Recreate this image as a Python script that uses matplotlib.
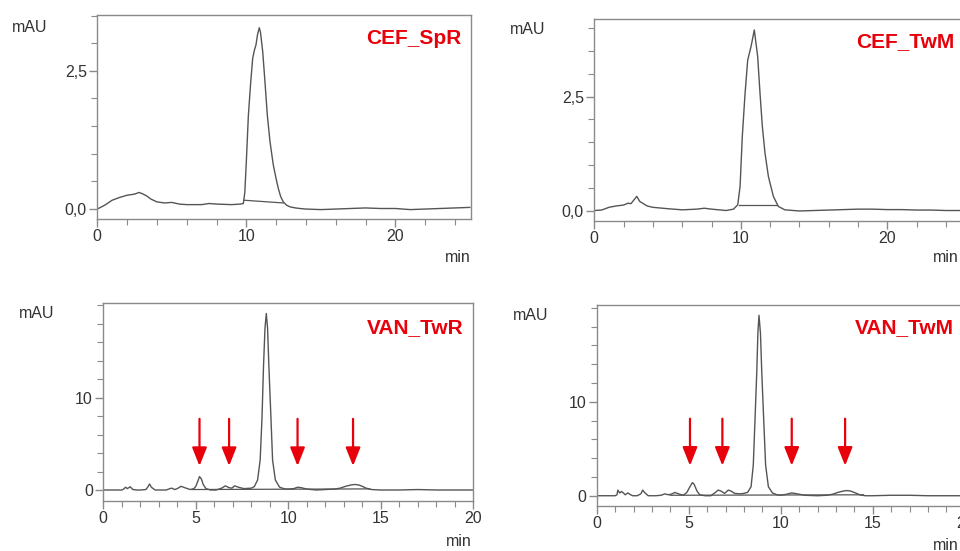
import matplotlib
matplotlib.use("Agg")
import matplotlib.pyplot as plt
from matplotlib.ticker import MultipleLocator, FixedLocator, FuncFormatter

plt.rcParams['font.family'] = ['Liberation Sans', 'DejaVu Sans']

# --- data (time in min, absorbance in mAU) ---
t_spr = [0, 0.5, 1.0, 1.5, 2.0, 2.5, 2.8, 3.0, 3.3, 3.6, 4.0, 4.5, 5.0, 5.5, 6.0, 7.0, 7.5, 8.0,
         9.0, 9.6, 9.8, 9.9, 10.0, 10.14, 10.3, 10.43, 10.55, 10.65, 10.75, 10.87, 10.95, 11.1,
         11.25, 11.41, 11.59, 11.81, 12.0, 12.15, 12.3, 12.48, 12.7, 12.93, 13.3, 13.6, 14, 15,
         16, 17, 18, 19, 20, 21, 22, 23, 24, 25]
a_spr = [0.0, 0.07, 0.16, 0.21, 0.25, 0.27, 0.30, 0.28, 0.24, 0.18, 0.13, 0.11, 0.12, 0.09, 0.08,
         0.08, 0.10, 0.09, 0.08, 0.09, 0.10, 0.30, 0.85, 1.70, 2.31, 2.73, 2.88, 2.97, 3.15, 3.28,
         3.20, 2.85, 2.31, 1.70, 1.22, 0.80, 0.55, 0.37, 0.23, 0.13, 0.07, 0.04, 0.02, 0.01, 0.0,
         -0.01, 0.0, 0.01, 0.02, 0.01, 0.01, -0.01, 0.0, 0.01, 0.02, 0.03]
base_t_spr = [9.83, 12.48]
base_a_spr = [0.16, 0.11]

t_twm = [0, 0.5, 1.0, 1.5, 2.0, 2.3, 2.5, 2.8, 2.9, 3.1, 3.3, 3.6, 4.0, 5.0, 6.0, 7.0, 7.5, 8.0,
         9.0, 9.5, 9.79, 9.95, 10.1, 10.29, 10.47, 10.7, 10.92, 11.15, 11.31, 11.47, 11.65,
         11.88, 12.22, 12.56, 13.0, 14, 15, 16, 17, 18, 19, 20, 21, 22, 23, 24, 25]
a_twm = [0.0, 0.01, 0.07, 0.10, 0.12, 0.16, 0.15, 0.27, 0.31, 0.20, 0.16, 0.10, 0.07, 0.04, 0.015,
         0.03, 0.05, 0.03, 0.0, 0.03, 0.125, 0.53, 1.62, 2.57, 3.30, 3.60, 3.96, 3.38, 2.57, 1.84,
         1.26, 0.75, 0.31, 0.09, 0.015, -0.01, 0.0, 0.01, 0.02, 0.03, 0.03, 0.02, 0.02, 0.01,
         0.01, 0.0, 0.0]
base_t_twm = [9.9, 12.5]
base_a_twm = [0.125, 0.125]

t_van_twr = [0, 0.5, 1.0, 1.1, 1.2, 1.3, 1.45, 1.6, 1.8, 2.0, 2.3, 2.4, 2.5, 2.6, 2.8, 3.0, 3.4,
             3.6, 3.7, 3.85, 4.0, 4.2, 4.4, 4.7, 4.9, 5.0, 5.1, 5.2, 5.3, 5.4, 5.55, 5.8, 6.1,
             6.4, 6.6, 6.8, 6.95, 7.1, 7.3, 7.6, 8.0, 8.16, 8.34, 8.48, 8.58, 8.66, 8.74, 8.81,
             8.88, 8.95, 9.06, 9.15, 9.3, 9.53, 9.8, 10.0, 10.3, 10.5, 10.7, 11.0, 11.5, 12.0,
             12.5, 12.8, 13.1, 13.4, 13.6, 13.8, 14.0, 14.2, 14.5, 15, 16, 17, 18, 19, 20]
a_van_twr = [0, 0, 0, 0.1, 0.3, 0.15, 0.35, 0.05, 0.0, 0.0, 0.05, 0.3, 0.65, 0.3, 0.0, 0.0, 0.0,
             0.15, 0.2, 0.05, 0.15, 0.4, 0.25, 0.05, 0.15, 0.4, 0.9, 1.45, 1.2, 0.6, 0.15, 0.0,
             0.0, 0.2, 0.45, 0.25, 0.2, 0.45, 0.3, 0.15, 0.2, 0.36, 1.08, 3.25, 7.9, 13.4, 17.5,
             19.1, 17.5, 13.4, 7.9, 3.25, 1.08, 0.3, 0.12, 0.1, 0.15, 0.3, 0.25, 0.1, 0.0, 0.05,
             0.1, 0.2, 0.4, 0.55, 0.6, 0.55, 0.4, 0.2, 0.05, 0.0, 0.0, 0.05, 0.0, 0.0, 0.0]
base_t_van_twr = [4.8, 14.4]
base_a_van_twr = [0.05, 0.12]
arrows_van_twr = [5.2, 6.8, 10.5, 13.5]

t_van_twm = [0, 0.5, 1.0, 1.1, 1.15, 1.25, 1.35, 1.45, 1.55, 1.7, 1.8, 1.95, 2.2, 2.4, 2.5, 2.6,
             2.8, 3.2, 3.5, 3.7, 3.9, 4.1, 4.25, 4.45, 4.7, 4.9, 5.05, 5.2, 5.3, 5.45, 5.6, 5.9,
             6.2, 6.45, 6.6, 6.75, 6.95, 7.15, 7.3, 7.5, 7.8, 8.0, 8.2, 8.39, 8.51, 8.6, 8.7,
             8.76, 8.82, 8.9, 8.97, 9.08, 9.18, 9.33, 9.55, 9.8, 10.0, 10.3, 10.6, 10.9, 11.3,
             12.0, 12.5, 12.8, 13.1, 13.4, 13.6, 13.8, 14.0, 14.3, 14.6, 15, 16, 17, 18, 19, 20]
a_van_twm = [0, 0, 0, 0.1, 0.6, 0.3, 0.45, 0.3, 0.1, 0.3, 0.15, 0.0, 0.0, 0.2, 0.6, 0.35, 0.0,
             0.0, 0.05, 0.2, 0.1, 0.2, 0.35, 0.2, 0.05, 0.35, 0.9, 1.4, 1.2, 0.5, 0.1, 0.0, 0.0,
             0.35, 0.6, 0.5, 0.25, 0.6, 0.5, 0.25, 0.2, 0.25, 0.36, 0.96, 3.27, 7.9, 13.2, 17.3,
             19.2, 17.3, 13.2, 7.9, 3.27, 0.96, 0.3, 0.1, 0.05, 0.15, 0.3, 0.2, 0.05, 0.0, 0.05,
             0.15, 0.35, 0.5, 0.55, 0.5, 0.35, 0.1, 0.0, 0.0, 0.05, 0.05, 0.0, 0.0, 0.0]
base_t_van_twm = [4.0, 14.5]
base_a_van_twm = [0.05, 0.1]
arrows_van_twm = [5.07, 6.83, 10.6, 13.5]

W, H = 960, 551
fig = plt.figure(figsize=(W / 100, H / 100), dpi=100)

LINE = '#555555'
SPINE = '#8a8a8a'
TXT = '#333333'


def px_axes(l, t, r, b):
    return fig.add_axes([l / W, 1 - b / H, (r - l) / W, (b - t) / H])


def comma(v, pos):
    return ('%.1f' % v).replace('.', ',')


def style(ax, xmax, xmaj, xmin_, ymajors, ymin_, fmt=None):
    for s in ax.spines.values():
        s.set_color(SPINE)
        s.set_linewidth(1.0)
    ax.xaxis.set_major_locator(MultipleLocator(xmaj))
    ax.xaxis.set_minor_locator(MultipleLocator(xmin_))
    ax.yaxis.set_major_locator(FixedLocator(ymajors))
    ax.yaxis.set_minor_locator(MultipleLocator(ymin_))
    if fmt:
        ax.yaxis.set_major_formatter(FuncFormatter(fmt))
    ax.tick_params(which='both', direction='out', color=SPINE, labelcolor=TXT,
                   labelsize=11.5, top=False, right=False)
    ax.tick_params(which='major', length=6, width=1, pad=1.5)
    ax.tick_params(which='minor', length=4, width=0.8)
    ax.set_xlim(0, xmax)


def label(ax, name, mau_xy, name_xy, min_xy):
    fig.text(mau_xy[0] / W, 1 - mau_xy[1] / H, 'mAU', fontsize=11.5, color=TXT,
             ha='left', va='center')
    fig.text(name_xy[0] / W, 1 - name_xy[1] / H, name, fontsize=15, color='#e8000b',
             fontweight='bold', ha='right', va='center')
    fig.text(min_xy[0] / W, 1 - min_xy[1] / H, 'min', fontsize=11.5, color=TXT,
             ha='right', va='center')


def arrows(ax, times, top, tip):
    for x in times:
        ax.annotate('', xy=(x, tip), xytext=(x, top),
                    arrowprops=dict(arrowstyle='-|>,head_length=0.8,head_width=0.32',
                                    color='#e8000b', lw=1.6, mutation_scale=14,
                                    shrinkA=0, shrinkB=0))


# CEF_SpR
ax1 = px_axes(97.3, 15, 471, 219)
ax1.plot(t_spr, a_spr, color=LINE, lw=1.0)
ax1.plot(base_t_spr, base_a_spr, color=LINE, lw=0.9)
style(ax1, 25.08, 10, 2, [0, 2.5], 0.5, comma)
ax1.set_ylim(-0.18, 3.51)
label(ax1, 'CEF_SpR', (12, 28), (461, 38), (471, 258))

# CEF_TwM
ax2 = px_axes(594.3, 19, 960.6, 221)
ax2.plot(t_twm, a_twm, color=LINE, lw=1.0)
ax2.plot(base_t_twm, base_a_twm, color=LINE, lw=0.9)
style(ax2, 25.0, 10, 2, [0, 2.5], 0.5, comma)
ax2.set_ylim(-0.23, 4.2)
label(ax2, 'CEF_TwM', (510, 30), (954, 42), (959, 258))

# VAN_TwR
ax3 = px_axes(103.3, 303.3, 473.3, 501)
ax3.plot(t_van_twr, a_van_twr, color=LINE, lw=1.0)
ax3.plot(base_t_van_twr, base_a_van_twr, color=LINE, lw=0.9)
style(ax3, 20, 5, 1, [0, 10], 2)
ax3.set_ylim(-1.19, 20.2)
arrows(ax3, arrows_van_twr, 7.7, 2.6)
label(ax3, 'VAN_TwR', (19, 314), (463, 328), (472, 542))

# VAN_TwM
ax4 = px_axes(596.7, 305, 964.7, 505.7)
ax4.plot(t_van_twm, a_van_twm, color=LINE, lw=1.0)
ax4.plot(base_t_van_twm, base_a_van_twm, color=LINE, lw=0.9)
style(ax4, 20, 5, 1, [0, 10], 2)
ax4.set_ylim(-1.06, 20.3)
arrows(ax4, arrows_van_twm, 8.2, 3.2)
label(ax4, 'VAN_TwM', (513, 316), (954, 328), (959, 545))

fig.savefig('out.png', dpi=100)
